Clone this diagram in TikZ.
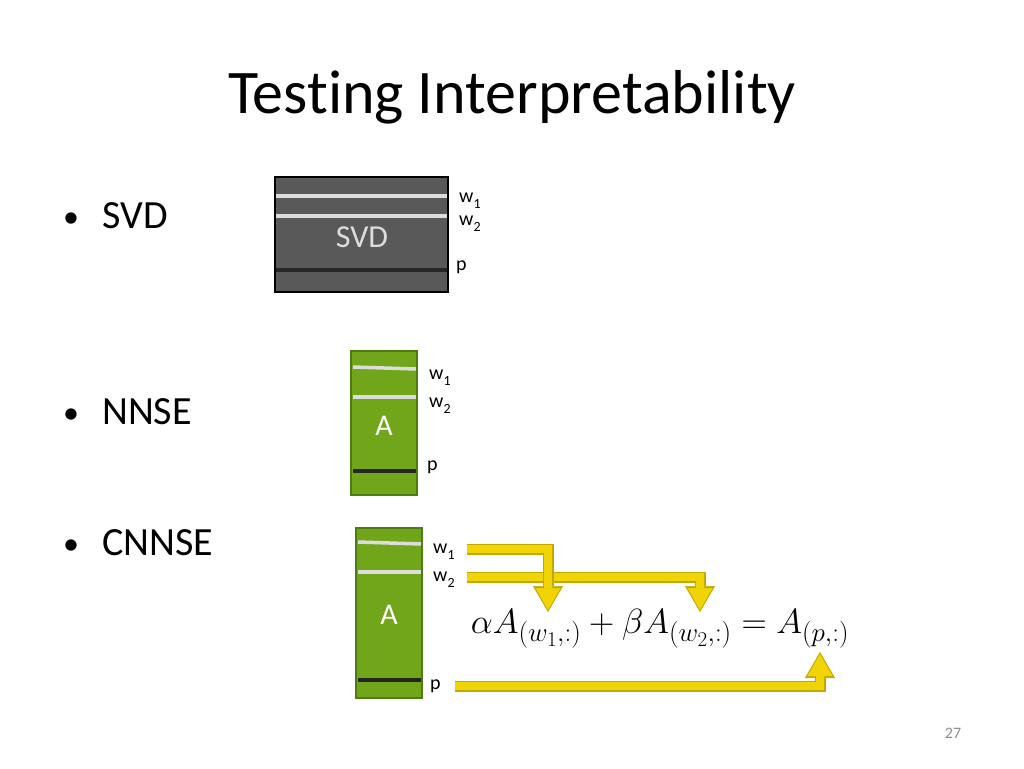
\RequirePackage{fix-cm}
\documentclass[tikz,border=0pt]{standalone}
\usepackage{fontspec}
\setmainfont{Carlito}[Ligatures=NoCommon]
\usetikzlibrary{arrows.meta}
\DeclareMathSizes{35}{35}{27}{21}
\definecolor{svdgray}{HTML}{595959}
\definecolor{rowlight}{HTML}{DCDCDC}
\definecolor{nnsegreen}{HTML}{72A61A}
\definecolor{nnseedge}{HTML}{4F7C12}
\definecolor{arrowyellow}{HTML}{F0D405}
\definecolor{arrowedge}{HTML}{C2A800}
\definecolor{pagegray}{HTML}{8C8C8C}
\newcommand{\wsub}[1]{w\raisebox{-0.3em}{\fontsize{14}{14}\selectfont #1}}
\newcommand{\bulletmark}{\makebox[47pt][l]{\hspace{8pt}\raisebox{1pt}{\fontsize{32}{32}\selectfont\textbullet}}}
\begin{document}
\begin{tikzpicture}
	[x=1pt,y=-1pt,
		bullet/.style={anchor=base west,inner sep=0pt,font=\fontsize{40}{40}\selectfont},
		rowlabel/.style={anchor=west,inner sep=0pt,font=\fontsize{20}{20}\selectfont},
		svdbox/.style={draw=black,line width=1.5pt,fill=svdgray},
		nnsebox/.style={draw=nnseedge,line width=2pt,fill=nnsegreen},
		row/.style={draw=rowlight,line width=3.5pt},
		prow/.style={draw=black!85,line width=3.5pt},
		boxtext/.style={text=white,inner sep=0pt},
		shaft out/.style={draw=arrowedge,line width=11pt,
			-{Triangle[width=30pt,length=26pt,line width=0.5pt,fill=arrowedge]}},
		shaft in/.style={draw=arrowyellow,line width=8pt,shorten >=2pt,
			-{Triangle[width=25pt,length=22pt,line width=0.5pt,fill=arrowyellow]}}]
	\useasboundingbox (0,0) rectangle (1024,768);
	% title and bullets
	\node[font=\fontsize{62}{62}\selectfont] (title) at (512,97) {Testing Interpretability};
	\node[bullet] (bsvd) at (55,228) {\bulletmark SVD};
	\node[bullet] (bnnse) at (55,424) {\bulletmark NNSE};
	\node[bullet] (bcnnse) at (55,555) {\bulletmark CNNSE};
	% SVD matrix
	\draw[svdbox] (275,177) rectangle (448,292);
	\draw[row] (276,196) -- (447,196);
	\draw[row] (276,216) -- (447,216);
	\draw[prow] (276,270) -- (447,270);
	\node[boxtext,font=\fontsize{32}{32}\selectfont,text=rowlight] (svdname) at (362,237) {SVD};
	\node[rowlabel] (sw1) at (459,201) {\wsub{1}};
	\node[rowlabel] (sw2) at (459,224) {\wsub{2}};
	\node[rowlabel] (sp) at (456,267) {p};
	% NNSE matrix
	\draw[nnsebox] (351,351) rectangle (417,495);
	\draw[row] (353,367) -- (416,369);
	\draw[row] (353,397) -- (416,397);
	\draw[prow] (353,471) -- (416,471);
	\node[boxtext,font=\fontsize{30}{30}\selectfont] (nname) at (384,426) {A};
	\node[rowlabel] (nw1) at (429,378) {\wsub{1}};
	\node[rowlabel] (nw2) at (429,406) {\wsub{2}};
	\node[rowlabel] (np) at (427,467) {p};
	% CNNSE matrix
	\draw[nnsebox] (356,528) rectangle (422,698);
	\draw[row] (358,542) -- (421,544);
	\draw[row] (358,572) -- (421,572);
	\draw[prow] (358,680) -- (421,680);
	\node[boxtext,font=\fontsize{30}{30}\selectfont] (cname) at (389,615) {A};
	\node[rowlabel] (cw1) at (433,552) {\wsub{1}};
	\node[rowlabel] (cw2) at (433,580) {\wsub{2}};
	\node[rowlabel] (cp) at (430,686) {p};
	% equation and arrows
	\node[font=\fontsize{35}{35}\selectfont] (eq) at (660,629)
		{$\alpha A_{(w_1,:)} + \beta A_{(w_2,:)} = A_{(p,:)}$};
	\coordinate (s1) at (467,549);
	\coordinate (s2) at (467,577);
	\coordinate (s3) at (455,686);
	\coordinate (t1) at (548,612);
	\coordinate (t2) at (700,612);
	\coordinate (t3) at (820,652);
	\draw[shaft out] (s3) -| (t3);
	\draw[shaft in] (s3) -| (t3);
	\draw[shaft out] (s2) -| (t2);
	\draw[shaft in] (s2) -| (t2);
	\draw[shaft out] (s1) -| (t1);
	\draw[shaft in] (s1) -| (t1);
	\node[text=pagegray,font=\fontsize{16}{16}\selectfont] (page) at (953,733) {27};
\end{tikzpicture}
\end{document}
